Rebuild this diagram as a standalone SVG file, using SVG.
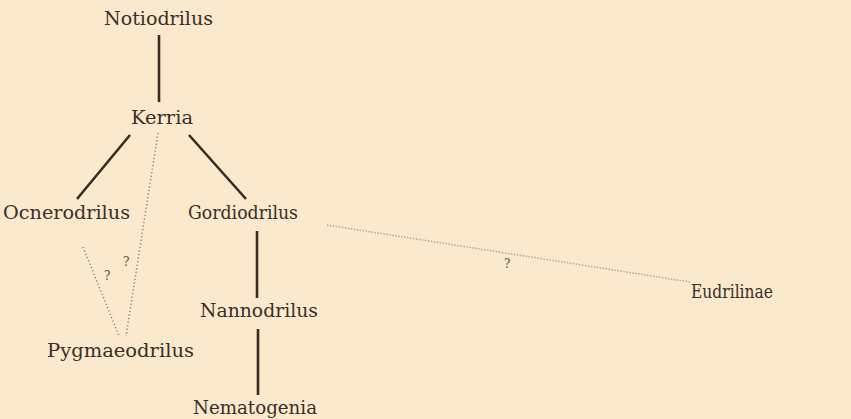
<svg xmlns="http://www.w3.org/2000/svg" width="851" height="419" viewBox="0 0 851 419">
<style>
.t{font-family:'DejaVu Serif','Liberation Serif',serif;font-size:19px;fill:#3b2e26}
.solid{stroke:#3a2b22;stroke-width:2.6;fill:none;stroke-linecap:butt}
.dot{stroke:#85786f;stroke-width:1.4;fill:none;stroke-dasharray:1.2 2.4}
.dotl{stroke:#b3a89d;stroke-width:1.5;fill:none;stroke-dasharray:1.5 1.5}
.q{font-family:'DejaVu Serif','Liberation Serif',serif;font-size:12px;fill:#5a4c44}
</style>
<rect width="851" height="419" fill="#fbe9ce"/>
<g id="connectors">
<line class="solid" x1="159" y1="35" x2="159" y2="102"/>
<line class="solid" x1="130" y1="135" x2="77" y2="199"/>
<line class="solid" x1="189" y1="135" x2="246" y2="199"/>
<line class="solid" x1="257" y1="231" x2="257" y2="298"/>
<line class="solid" x1="258" y1="329" x2="258" y2="395"/>
<line class="dot" x1="158" y1="133" x2="126" y2="336"/>
<line class="dot" x1="83" y1="247" x2="119" y2="336"/>
<line class="dotl" x1="327" y1="225" x2="690" y2="282"/>
<text class="q" x="104" y="280">?</text>
<text class="q" x="123" y="266">?</text>
<text class="q" x="504" y="268">?</text>
</g>
<g id="notiodrilus"><text class="t" x="104" y="25" textLength="109" lengthAdjust="spacingAndGlyphs">Notiodrilus</text></g>
<g id="kerria"><text class="t" x="131" y="124" textLength="62" lengthAdjust="spacingAndGlyphs">Kerria</text></g>
<g id="ocnerodrilus"><text class="t" x="3" y="219" textLength="127" lengthAdjust="spacingAndGlyphs">Ocnerodrilus</text></g>
<g id="gordiodrilus"><text class="t" x="188" y="219" textLength="110" lengthAdjust="spacingAndGlyphs">Gordiodrilus</text></g>
<g id="nannodrilus"><text class="t" x="200" y="317" textLength="118" lengthAdjust="spacingAndGlyphs">Nannodrilus</text></g>
<g id="pygmaeodrilus"><text class="t" x="47" y="357" textLength="147" lengthAdjust="spacingAndGlyphs">Pygmaeodrilus</text></g>
<g id="nematogenia"><text class="t" x="193" y="414" textLength="124" lengthAdjust="spacingAndGlyphs">Nematogenia</text></g>
<g id="eudrilinae"><text class="t" x="691" y="298" textLength="82" lengthAdjust="spacingAndGlyphs">Eudrilinae</text></g>
</svg>
